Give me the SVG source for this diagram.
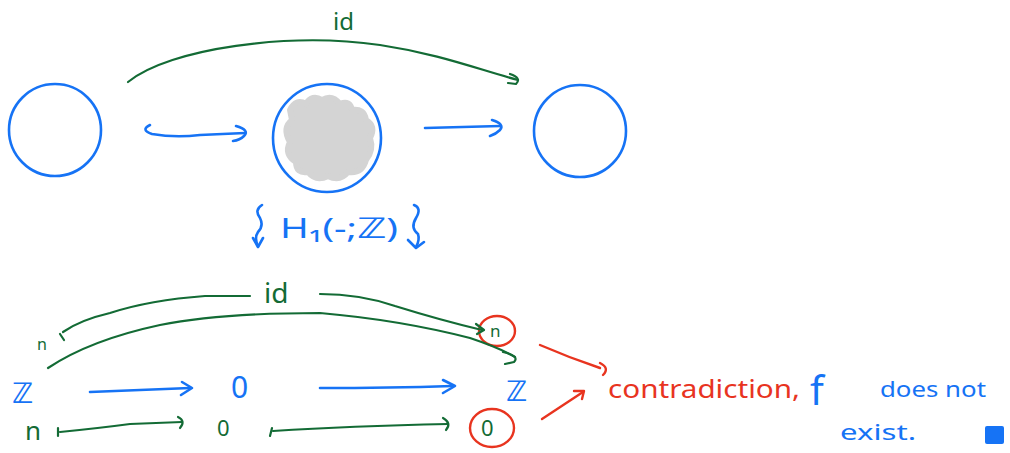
<svg xmlns="http://www.w3.org/2000/svg" width="1010" height="453" viewBox="0 0 1010 453">
  <style>
    .b { stroke: #1673f5; fill: none; stroke-width: 2.6; stroke-linecap: round; stroke-linejoin: round; }
    .g { stroke: #136b35; fill: none; stroke-width: 2.2; stroke-linecap: round; stroke-linejoin: round; }
    .r { stroke: #e8341f; fill: none; stroke-width: 2.4; stroke-linecap: round; stroke-linejoin: round; }
    .tb { fill: #1673f5; font-family: "Noto Sans", "DejaVu Sans", sans-serif; }
    .tg { fill: #136b35; font-family: "Noto Sans", "DejaVu Sans", sans-serif; }
    .tr { fill: #e8341f; font-family: "Noto Sans", "DejaVu Sans", sans-serif; }
    .zz { font-family: "DejaVu Sans", sans-serif; font-weight: bold; }
  </style>
  <rect width="1010" height="453" fill="#ffffff"/>

  <!-- top row: spaces -->
  <g id="space-left">
    <ellipse class="b" cx="55" cy="130" rx="46" ry="46"/>
  </g>
  <g id="space-middle">
    <ellipse class="b" cx="327" cy="138" rx="54" ry="54"/>
    <path d="M290 110 Q296 98 306 104 Q312 94 322 100 Q332 94 340 104 Q350 100 352 110 Q364 108 366 120 Q376 126 370 138 Q374 150 366 160 Q362 174 348 172 Q340 182 328 176 Q316 182 308 172 Q296 174 296 162 Q284 154 290 142 Q282 128 292 120 Z" fill="#d4d4d4" stroke="#d4d4d4" stroke-width="6" stroke-linejoin="round"/>
  </g>
  <g id="space-right">
    <ellipse class="b" cx="580" cy="131" rx="46" ry="46"/>
  </g>

  <!-- H_1 functor label -->
  <g id="functor">
    <path class="b" d="M262 205 Q254 210 260 218 Q264 226 258 232 Q254 238 258 246"/>
    <path class="b" d="M253 238 L258 247 L263 238"/>
    <text class="tb" x="280" y="238" font-size="28" textLength="118" lengthAdjust="spacingAndGlyphs">H₁(-;<tspan class="zz">ℤ</tspan>)</text>
    <path class="b" d="M414 205 Q422 208 416 218 Q410 228 418 234 Q420 240 416 247"/>
    <path class="b" d="M408 240 L416 248 L424 242"/>
  </g>

  <!-- bottom row: groups and elements -->
  <g id="z-left">
    <text class="tb zz" x="12" y="403" font-size="28">ℤ</text>
  </g>
  <g id="zero-mid">
    <text class="tb" x="231" y="398" font-size="30">0</text>
  </g>
  <g id="z-right">
    <text class="tb zz" x="506" y="401" font-size="28">ℤ</text>
  </g>
  <g id="n-left">
    <text class="tg" x="25" y="440" font-size="26">n</text>
  </g>
  <g id="n-small">
    <text class="tg" x="37" y="350" font-size="16">n</text>
  </g>
  <g id="zero-elem">
    <text class="tg" x="217" y="436" font-size="22">0</text>
  </g>
  <g id="n-circled">
    <ellipse class="r" cx="497" cy="331" rx="18" ry="15"/>
    <text class="tg" x="490" y="337" font-size="17">n</text>
  </g>
  <g id="zero-circled">
    <ellipse class="r" cx="492" cy="428" rx="22" ry="19"/>
    <text class="tg" x="481" y="436" font-size="22">0</text>
  </g>

  <!-- conclusion -->
  <g id="conclusion">
    <text class="tr" x="608" y="398" font-size="26" textLength="192" lengthAdjust="spacingAndGlyphs">contradiction,</text>
    <text class="tb" x="810" y="405" font-size="40">f</text>
    <text class="tb" x="880" y="397" font-size="22" textLength="106" lengthAdjust="spacingAndGlyphs">does not</text>
    <text class="tb" x="840" y="440" font-size="22" textLength="76" lengthAdjust="spacingAndGlyphs">exist.</text>
    <rect x="985" y="426" width="19" height="18" fill="#1673f5" rx="2"/>
  </g>

  <g id="connectors">
    <!-- top row -->
    <path class="g" d="M128 82 C170 48 290 32 380 45 C440 54 480 70 518 80"/>
    <path class="g" d="M510 74 Q522 78 516 84 L508 83"/>
    <text class="tg" x="333" y="30" font-size="24">id</text>

    <path class="b" d="M150 125 Q140 130 152 134 Q175 138 200 135 L245 133"/>
    <path class="b" d="M236 126 Q250 130 244 136 Q240 140 233 141"/>
    <path class="b" d="M425 128 L500 126"/>
    <path class="b" d="M492 120 Q505 124 500 130 Q496 134 490 136"/>

    <!-- n |-> n labelled id -->
    <path class="g" d="M250 296 L205 296 Q150 300 110 313 Q80 320 63 332"/>
    <path class="g" d="M60 334 L64 340"/>
    <path class="g" d="M320 294 Q360 294 395 306 Q440 320 482 330"/>
    <path class="g" d="M476 324 L484 330 L477 334"/>
    <text class="tg" x="264" y="303" font-size="28">id</text>

    <!-- id on Z -->
    <path class="g" d="M48 368 Q90 340 160 325 Q220 313 320 313 Q400 320 470 338 Q500 348 515 357"/>
    <path class="g" d="M503 352 Q520 356 514 362 L505 364"/>

    <!-- blue row -->
    <path class="b" d="M90 392 Q140 390 190 388"/>
    <path class="b" d="M182 382 L192 388 L181 395"/>
    <path class="b" d="M320 388 Q390 388 452 386"/>
    <path class="b" d="M443 380 L455 386 L443 393"/>

    <!-- green row -->
    <path class="g" d="M58 428 L58 436"/>
    <path class="g" d="M60 432 Q100 428 130 424 L182 422"/>
    <path class="g" d="M178 417 Q186 421 180 428"/>
    <path class="g" d="M272 428 L270 436"/>
    <path class="g" d="M273 431 Q350 426 448 424"/>
    <path class="g" d="M443 418 Q452 423 446 430"/>

    <!-- red arrows to conclusion -->
    <path class="r" d="M540 345 Q570 358 600 368"/>
    <path class="r" d="M600 363 Q610 368 603 375"/>
    <path class="r" d="M542 419 L583 392"/>
    <path class="r" d="M574 391 L584 391 L582 399"/>
  </g>
</svg>
